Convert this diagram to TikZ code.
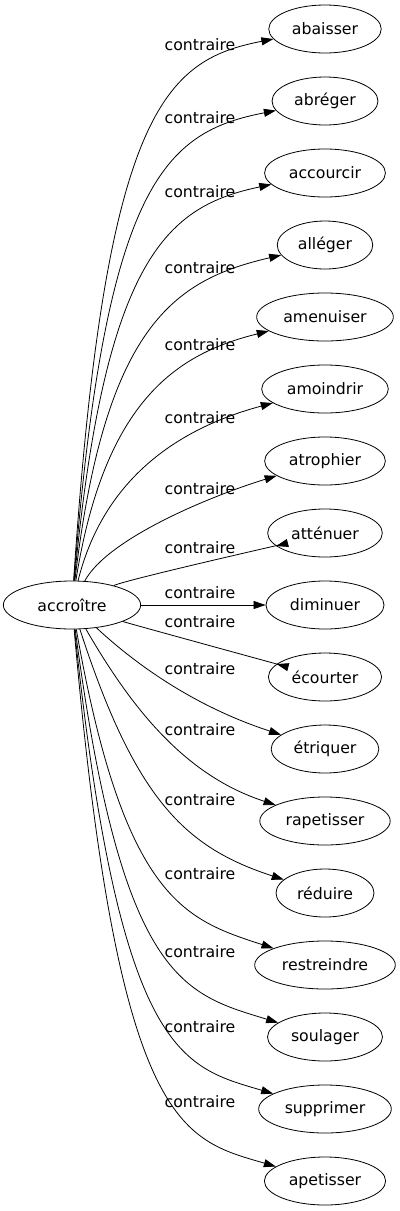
\documentclass[tikz,border=0pt]{standalone}
\usepackage{fontspec}
\setmainfont{DejaVu Sans}
\usepackage{tikz}
\usetikzlibrary{shapes,arrows.meta,positioning}

\begin{document}
\begin{tikzpicture}[x=0.75pt,y=0.75pt]
			\tikzstyle{Word}	= [ellipse, draw, line width=0.6pt, font=\fontsize{11.8pt}{14pt}\selectfont, minimum height=36pt, inner xsep=5pt, inner ysep=0pt]
			\tikzstyle{Rel}		= [font=\fontsize{11.8pt}{14pt}\selectfont, inner sep=0pt]
			\tikzstyle{Edge}	= [line width=0.6pt, -{Triangle[length=9pt,width=6pt]}]

			\useasboundingbox (0,0) rectangle (400,-1211);

			\node (w0) at (72,-605) [Word, minimum width=103pt] {accroître};

			\node (w1) at (325,-29) [Word] {abaisser};
			\node (w2) at (325,-101) [Word] {abréger};
			\node (w3) at (325,-173) [Word] {accourcir};
			\node (w4) at (325,-245) [Word] {alléger};
			\node (w5) at (325,-317) [Word] {amenuiser};
			\node (w6) at (325,-389) [Word] {amoindrir};
			\node (w7) at (325,-461) [Word] {atrophier};
			\node (w8) at (325,-533) [Word] {atténuer};
			\node (w9) at (325,-605) [Word] {diminuer};
			\node (w10) at (325,-677) [Word] {écourter};
			\node (w11) at (325,-749) [Word] {étriquer};
			\node (w12) at (325,-821) [Word] {rapetisser};
			\node (w13) at (325,-893) [Word] {réduire};
			\node (w14) at (325,-965) [Word] {restreindre};
			\node (w15) at (325,-1037) [Word] {soulager};
			\node (w16) at (325,-1109) [Word] {supprimer};
			\node (w17) at (325,-1181) [Word] {apetisser};

			\node (r1) at (200,-45) [Rel] {contraire};
			\node (r2) at (200,-118) [Rel] {contraire};
			\node (r3) at (200,-192) [Rel] {contraire};
			\node (r4) at (200,-268) [Rel] {contraire};
			\node (r5) at (200,-345) [Rel] {contraire};
			\node (r6) at (200,-418) [Rel] {contraire};
			\node (r7) at (200,-489) [Rel] {contraire};
			\node (r8) at (200,-548) [Rel] {contraire};
			\node (r9) at (200,-593) [Rel] {contraire};
			\node (r10) at (200,-622) [Rel] {contraire};
			\node (r11) at (200,-669) [Rel] {contraire};
			\node (r12) at (200,-730) [Rel] {contraire};
			\node (r13) at (200,-800) [Rel] {contraire};
			\node (r14) at (200,-874) [Rel] {contraire};
			\node (r15) at (200,-952) [Rel] {contraire};
			\node (r16) at (200,-1027) [Rel] {contraire};
			\node (r17) at (200,-1102) [Rel] {contraire};

			\draw [Edge] (w0) .. controls +(86.2:496) and +(191:163) .. (w1);
			\draw [Edge] (w0) .. controls +(85.5:424) and +(191:163) .. (w2);
			\draw [Edge] (w0) .. controls +(84.6:352) and +(192:160) .. (w3);
			\draw [Edge] (w0) .. controls +(83.3:281) and +(193:155) .. (w4);
			\draw [Edge] (w0) .. controls +(81:210) and +(194:150) .. (w5);
			\draw [Edge] (w0) .. controls +(76:139) and +(195:140) .. (w6);
			\draw [Edge] (w0) .. controls +(62:75) and +(197:120) .. (w7);
			\draw [Edge] (w0) .. controls +(25:60) and +(195:40) .. (w8);
			\draw [Edge] (w0) -- (w9);
			\draw [Edge] (w0) .. controls +(-18:60) and +(165:40) .. (w10);
			\draw [Edge] (w0) .. controls +(-43:80) and +(162:142) .. (w11);
			\draw [Edge] (w0) .. controls +(-60:120) and +(162:147) .. (w12);
			\draw [Edge] (w0) .. controls +(-72:205) and +(162:147) .. (w13);
			\draw [Edge] (w0) .. controls +(-80:300) and +(162:147) .. (w14);
			\draw [Edge] (w0) .. controls +(-82.5:380) and +(163:148) .. (w15);
			\draw [Edge] (w0) .. controls +(-84:455) and +(163.5:149) .. (w16);
			\draw [Edge] (w0) .. controls +(-85:528) and +(163.6:149) .. (w17);
		\end{tikzpicture}
\end{document}
